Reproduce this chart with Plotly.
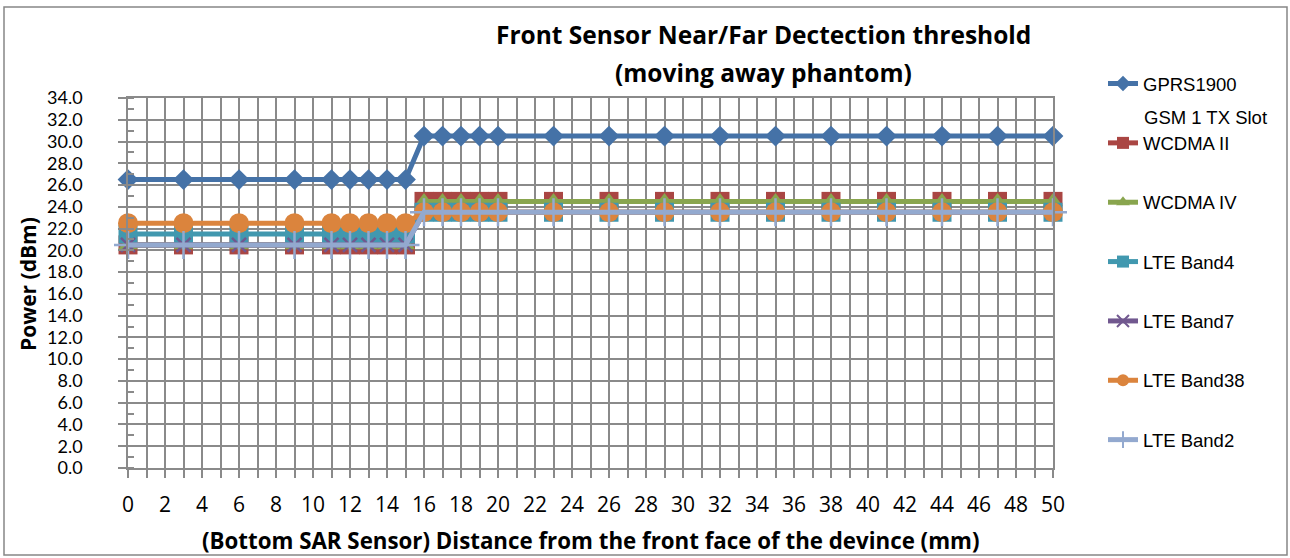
import plotly.graph_objects as go

# ---------------- data ----------------
distance_mm = [0, 3, 6, 9, 11, 12, 13, 14, 15, 16, 17, 18, 19, 20,
               23, 26, 29, 32, 35, 38, 41, 44, 47, 50]

gprs1900 = [26.5, 26.5, 26.5, 26.5, 26.5, 26.5, 26.5, 26.5, 26.5,
            30.5, 30.5, 30.5, 30.5, 30.5, 30.5, 30.5, 30.5, 30.5, 30.5, 30.5, 30.5, 30.5, 30.5, 30.5]
wcdma_ii = [20.5, 20.5, 20.5, 20.5, 20.5, 20.5, 20.5, 20.5, 20.5,
            24.5, 24.5, 24.5, 24.5, 24.5, 24.5, 24.5, 24.5, 24.5, 24.5, 24.5, 24.5, 24.5, 24.5, 24.5]
wcdma_iv = [20.5, 20.5, 20.5, 20.5, 20.5, 20.5, 20.5, 20.5, 20.5,
            24.5, 24.5, 24.5, 24.5, 24.5, 24.5, 24.5, 24.5, 24.5, 24.5, 24.5, 24.5, 24.5, 24.5, 24.5]
lte_band4 = [21.5, 21.5, 21.5, 21.5, 21.5, 21.5, 21.5, 21.5, 21.5,
             23.5, 23.5, 23.5, 23.5, 23.5, 23.5, 23.5, 23.5, 23.5, 23.5, 23.5, 23.5, 23.5, 23.5, 23.5]
lte_band7 = [20.5, 20.5, 20.5, 20.5, 20.5, 20.5, 20.5, 20.5, 20.5,
             23.5, 23.5, 23.5, 23.5, 23.5, 23.5, 23.5, 23.5, 23.5, 23.5, 23.5, 23.5, 23.5, 23.5, 23.5]
lte_band38 = [22.5, 22.5, 22.5, 22.5, 22.5, 22.5, 22.5, 22.5, 22.5,
              23.5, 23.5, 23.5, 23.5, 23.5, 23.5, 23.5, 23.5, 23.5, 23.5, 23.5, 23.5, 23.5, 23.5, 23.5]
lte_band2 = [20.5, 20.5, 20.5, 20.5, 20.5, 20.5, 20.5, 20.5, 20.5,
             23.5, 23.5, 23.5, 23.5, 23.5, 23.5, 23.5, 23.5, 23.5, 23.5, 23.5, 23.5, 23.5, 23.5, 23.5]

series_names = ["GPRS1900", "WCDMA II", "WCDMA IV", "LTE Band4", "LTE Band7", "LTE Band38", "LTE Band2"]
series_values = [gprs1900, wcdma_ii, wcdma_iv, lte_band4, lte_band7, lte_band38, lte_band2]
gprs_subtitle = "GSM 1 TX Slot"

title_line1 = "Front Sensor Near/Far Dectection threshold"
title_line2 = "(moving away phantom)"
x_title = "(Bottom SAR Sensor) Distance from the front face of the devince (mm)"
y_title = "Power (dBm)"

# ---------------- styles ----------------
colors = ["#4572A7", "#AA4643", "#89A54E", "#4198AF", "#71588F", "#DB843D", "#93A9CF"]
symbols = ["diamond", "square", "triangle-up", "square", "x-thin", "circle", "cross-thin"]
sizes = [16, 19, 17, 19, 14, 20, 20]
mline = [0, 0, 0, 0, 2.5, 0, 2.5]

W, H = 1290, 558
L, R, T, B = 128, 1053, 98, 468   # plot area in pixels


def px(xp):
    return (xp - L) / (R - L)


def py(yp):
    return (B - yp) / (B - T)


GRID = "#8A8A8A"
XTICKFONT = dict(family="Open Sans", size=21, color="#000000")
YTICKFONT = dict(family="Lato", size=18, color="#000000")
LEGFONT = dict(family="Liberation Sans", size=18.5, color="#000000")

fig = go.Figure()
for name, vals, c, s, sz, lw in zip(series_names, series_values, colors, symbols, sizes, mline):
    fig.add_trace(go.Scatter(
        x=distance_mm, y=vals, name=name, mode="lines+markers",
        legendgroup=name, cliponaxis=False,
        line=dict(color=c, width=5),
        marker=dict(symbol=s, size=sz, color=c, line=dict(width=lw, color=c)),
    ))

fig.update_layout(
    width=W, height=H,
    margin=dict(l=L, r=W - R, t=T, b=H - B, pad=0),
    paper_bgcolor="white", plot_bgcolor="white",
    showlegend=True,
    legend=dict(
        x=px(1103), xanchor="left", y=py(65), yanchor="top",
        font=LEGFONT, maxheight=1, itemsizing="constant",
        bgcolor="rgba(0,0,0,0)", traceorder="grouped", tracegroupgap=32.3,
        itemwidth=30,
    ),
    xaxis=dict(
        range=[0, 50], tick0=0, dtick=2, ticks="outside", ticklen=8,
        tickcolor=GRID, tickwidth=1.5, tickfont=XTICKFONT,
        showgrid=True, gridcolor=GRID, gridwidth=1.5,
        showline=True, linecolor=GRID, linewidth=1.5, mirror=True,
        zeroline=False, ticklabelstandoff=9,
        minor=dict(tick0=0, dtick=1, ticks="outside", ticklen=8, tickcolor=GRID,
                   tickwidth=1.5, showgrid=True, gridcolor=GRID, gridwidth=1.5),
    ),
    yaxis=dict(
        range=[0, 34], tick0=0, dtick=2, tickformat=".1f",
        ticks="outside", ticklen=8, tickcolor=GRID, tickwidth=1.5, tickfont=YTICKFONT,
        showgrid=True, gridcolor=GRID, gridwidth=1.5,
        showline=True, linecolor=GRID, linewidth=1.5, mirror=True,
        zeroline=False, ticklabelstandoff=32,
        minor=dict(tick0=0, dtick=1, ticks="inside", ticklen=6, tickcolor=GRID,
                   tickwidth=1.5, showgrid=False),
    ),
    shapes=[dict(type="rect", xref="paper", yref="paper",
                 x0=px(4), x1=px(1287), y0=py(555), y1=py(7),
                 line=dict(color="#868686", width=1.5), fillcolor="rgba(0,0,0,0)",
                 layer="below")],
    annotations=[
        dict(text="<b>%s</b>" % title_line1, xref="paper", yref="paper",
             x=px(763), y=py(35), xanchor="center", yanchor="middle", showarrow=False,
             font=dict(family="Open Sans", size=24.5, color="#000000")),
        dict(text="<b>%s</b>" % title_line2, xref="paper", yref="paper",
             x=px(763), y=py(72), xanchor="center", yanchor="middle", showarrow=False,
             font=dict(family="Open Sans", size=24.5, color="#000000")),
        dict(text="<b>%s</b>" % x_title, xref="paper", yref="paper",
             x=px(591), y=py(540), xanchor="center", yanchor="middle", showarrow=False,
             font=dict(family="Open Sans", size=22.3, color="#000000")),
        dict(text="<b>%s</b>" % y_title, xref="paper", yref="paper",
             x=px(28), y=py(284), xanchor="center", yanchor="middle", showarrow=False,
             textangle=-90, font=dict(family="Open Sans", size=21, color="#000000")),
        dict(text=gprs_subtitle, xref="paper", yref="paper",
             x=px(1143), y=py(117), xanchor="left", yanchor="middle", showarrow=False,
             borderpad=0, font=LEGFONT),
    ],
)

fig.write_html("out.html",
               config={"displayModeBar": False},
               post_script="document.body.style.margin='0px';document.body.style.overflow='hidden';")
